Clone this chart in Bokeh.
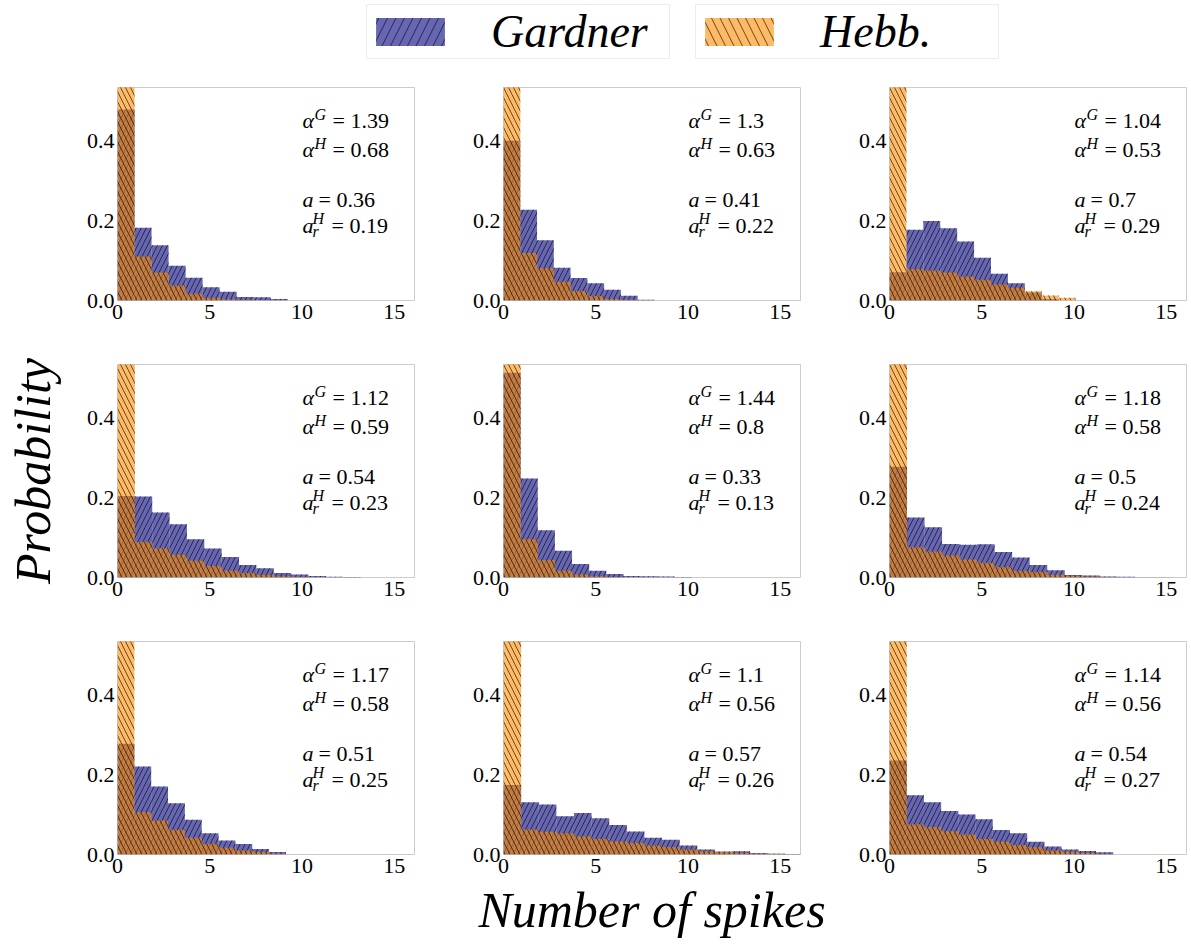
import math
import numpy as np
from bokeh.plotting import figure
from bokeh.models import (Range1d, FixedTicker, PrintfTickFormatter, Label,
                          Legend, LegendItem, ColumnDataSource)
from bokeh.layouts import row, column
from bokeh.embed import file_html
from bokeh.resources import INLINE

# ---------------- data ----------------
x_ticks = [0, 5, 10, 15]
y_ticks = [0.0, 0.2, 0.4]
series_names = ["Gardner", "Hebb."]
x_label = "Number of spikes"
y_label = "Probability"

# bin widths (spike-count histogram bins)
bin_width = [0.923, 0.909, 0.917, 0.941, 0.929, 0.95, 0.913, 0.955, 0.933]

gardner_1 = [0.478, 0.182, 0.138, 0.087, 0.057, 0.033, 0.022, 0.009, 0.008, 0.004]
hebb_1 = [0.84, 0.11, 0.07, 0.0375, 0.017, 0.007, 0.003, 0.002]

gardner_2 = [0.40, 0.227, 0.151, 0.082, 0.056, 0.043, 0.027, 0.012, 0.002]
hebb_2 = [0.81, 0.119, 0.081, 0.047, 0.024, 0.011, 0.004, 0.002]

gardner_3 = [0.071, 0.177, 0.199, 0.181, 0.1475, 0.107, 0.067, 0.043, 0.02, 0.004]
hebb_3 = [0.64, 0.079, 0.075, 0.07, 0.06, 0.052, 0.04, 0.032, 0.023, 0.0125, 0.007]

gardner_4 = [0.204, 0.2025, 0.1625, 0.133, 0.096, 0.0725, 0.051, 0.031, 0.023,
             0.011, 0.0075, 0.004, 0.0017, 0.001]
hebb_4 = [0.73, 0.089, 0.073, 0.057, 0.042, 0.029, 0.017, 0.011, 0.007, 0.003, 0.002]

gardner_5 = [0.5125, 0.2475, 0.118, 0.067, 0.034, 0.017, 0.009, 0.004, 0.003, 0.0025, 0.0015]
hebb_5 = [0.91, 0.096, 0.043, 0.017, 0.0075, 0.003, 0.0015]

gardner_6 = [0.277, 0.150, 0.126, 0.084, 0.082, 0.083, 0.064, 0.05, 0.031, 0.018,
             0.006, 0.005, 0.0025, 0.0017, 0.0008, 0.0008]
hebb_6 = [0.70, 0.076, 0.065, 0.055, 0.045, 0.037, 0.026, 0.0165, 0.014, 0.0066,
          0.004, 0.0025, 0.001]

gardner_7 = [0.277, 0.22, 0.17, 0.128, 0.087, 0.053, 0.035, 0.026, 0.014, 0.006]
hebb_7 = [0.73, 0.106, 0.085, 0.062, 0.042, 0.027, 0.017, 0.01, 0.006, 0.0025]

gardner_8 = [0.174, 0.131, 0.125, 0.096, 0.104, 0.091, 0.074, 0.0575, 0.042, 0.037,
             0.0225, 0.0125, 0.0075, 0.0083, 0.004, 0.0017, 0.001]
hebb_8 = [0.655, 0.0625, 0.057, 0.053, 0.045, 0.039, 0.0325, 0.029, 0.0225, 0.018,
          0.0125, 0.008, 0.006, 0.004, 0.0025, 0.0017]

gardner_9 = [0.235, 0.148, 0.131, 0.109, 0.1, 0.088, 0.061, 0.053, 0.032, 0.02,
             0.0124, 0.009, 0.0058]
hebb_9 = [0.68, 0.076, 0.068, 0.058, 0.05, 0.039, 0.032, 0.024, 0.018, 0.01,
          0.0066, 0.004, 0.0017]

alpha_G = ["1.39", "1.3", "1.04", "1.12", "1.44", "1.18", "1.17", "1.1", "1.14"]
alpha_H = ["0.68", "0.63", "0.53", "0.59", "0.8", "0.58", "0.58", "0.56", "0.56"]
a_vals = ["0.36", "0.41", "0.7", "0.54", "0.33", "0.5", "0.51", "0.57", "0.54"]
a_r_H = ["0.19", "0.22", "0.29", "0.23", "0.13", "0.24", "0.25", "0.26", "0.27"]

gardner_all = [gardner_1, gardner_2, gardner_3, gardner_4, gardner_5,
               gardner_6, gardner_7, gardner_8, gardner_9]
hebb_all = [hebb_1, hebb_2, hebb_3, hebb_4, hebb_5, hebb_6, hebb_7, hebb_8, hebb_9]

# ---------------- style ----------------
FONT = "Liberation Serif, serif"
G_COLOR = "navy"
H_COLOR = "darkorange"
FILL_ALPHA = 0.6
HATCH_ALPHA = 0.6
GRAY = "#cccccc"

FRAME_W, FRAME_H = 297, 213
BORDER_L = [117, 50, 50]
BORDER_R = [39, 39, 4]
BORDER_T = 14
BORDER_B = [50, 50, 95]
X_MAX, Y_MAX = 16.1, 0.533
TOTAL_W = 1190
LEG_H = 73


def hist_source(values, w):
    vals = np.asarray(values, dtype=float)
    edges = np.arange(len(vals) + 1) * w
    return ColumnDataSource(dict(left=edges[:-1], right=edges[1:],
                                 top=vals, bottom=np.zeros_like(vals)))


def add_label(p, x, y, text, size="22px", style="normal"):
    p.add_layout(Label(x=x, y=y, x_units="screen", y_units="screen", text=text,
                       text_font=FONT, text_font_size=size, text_font_style=style,
                       text_color="black", text_baseline="alphabetic",
                       text_align="left"))


def make_panel(k):
    r, c = divmod(k, 3)
    p = figure(frame_width=FRAME_W, frame_height=FRAME_H,
               x_range=Range1d(0, X_MAX), y_range=Range1d(0, Y_MAX),
               toolbar_location=None, output_backend="svg",
               min_border_left=BORDER_L[c], min_border_right=BORDER_R[c],
               min_border_top=BORDER_T, min_border_bottom=BORDER_B[r],
               background_fill_color="white", border_fill_color="white",
               outline_line_color=GRAY, outline_line_width=1)
    p.grid.visible = False
    for ax in p.axis:
        ax.axis_line_color = None
        ax.major_tick_line_color = None
        ax.minor_tick_line_color = None
        ax.major_tick_out = 0
        ax.major_tick_in = 0
        ax.major_label_text_font = FONT
        ax.major_label_text_font_size = "22px"
        ax.major_label_text_color = "black"
        ax.axis_label_text_font = FONT
        ax.axis_label_text_font_size = "50px"
        ax.axis_label_text_font_style = "italic"
        ax.axis_label_text_color = "black"
    p.xaxis.ticker = FixedTicker(ticks=x_ticks)
    p.yaxis.ticker = FixedTicker(ticks=y_ticks)
    p.yaxis.formatter = PrintfTickFormatter(format="%.1f")
    p.xaxis.major_label_standoff = 4
    p.yaxis.major_label_standoff = 3
    if k == 3:
        p.yaxis.axis_label = y_label
        p.yaxis.axis_label_standoff = 23
    if k == 7:
        p.xaxis.axis_label = x_label
        p.xaxis.axis_label_standoff = 6

    w = bin_width[k]
    p.quad(left="left", right="right", top="top", bottom="bottom",
           source=hist_source(gardner_all[k], w),
           fill_color=G_COLOR, fill_alpha=FILL_ALPHA, line_color=None,
           hatch_pattern="/", hatch_color="black", hatch_alpha=HATCH_ALPHA,
           hatch_scale=10, hatch_weight=1)
    p.quad(left="left", right="right", top="top", bottom="bottom",
           source=hist_source(hebb_all[k], w),
           fill_color=H_COLOR, fill_alpha=FILL_ALPHA, line_color=None,
           hatch_pattern="\\", hatch_color="black", hatch_alpha=HATCH_ALPHA,
           hatch_scale=10, hatch_weight=1)

    x0 = 185
    y1 = FRAME_H - 33
    y2 = FRAME_H - 62
    y3 = FRAME_H - 112
    y4 = FRAME_H - 138
    add_label(p, x0, y1, "\u03b1", style="italic")
    add_label(p, x0 + 12, y1 + 6, "G", size="16px", style="italic")
    add_label(p, x0 + 30, y1, "= " + alpha_G[k])
    add_label(p, x0, y2, "\u03b1", style="italic")
    add_label(p, x0 + 12, y2 + 6, "H", size="16px", style="italic")
    add_label(p, x0 + 30, y2, "= " + alpha_H[k])
    add_label(p, x0, y3, "a", style="italic")
    add_label(p, x0 + 16, y3, "= " + a_vals[k])
    add_label(p, x0, y4, "a", style="italic")
    add_label(p, x0 + 10, y4 + 7, "H", size="16px", style="italic")
    add_label(p, x0 + 10, y4 - 6, "r", size="16px", style="italic")
    add_label(p, x0 + 29, y4, "= " + a_r_H[k])
    return p


panels = [make_panel(k) for k in range(9)]

# legend figure: the series are drawn outside its visible x range, only the legend shows
lf = figure(width=TOTAL_W, height=LEG_H, x_range=Range1d(-3, -2), y_range=Range1d(0, 1),
            toolbar_location=None, output_backend="svg", min_border=0,
            outline_line_color=None, x_axis_location=None, y_axis_location=None,
            background_fill_color="white", border_fill_color="white")
lf.grid.visible = False
rg = lf.quad(left="left", right="right", top="top", bottom="bottom",
             source=hist_source(gardner_1, bin_width[0]), fill_color=G_COLOR,
             fill_alpha=FILL_ALPHA, line_color=None, hatch_pattern="/",
             hatch_color="black", hatch_alpha=HATCH_ALPHA, hatch_scale=17,
             hatch_weight=1)
rh = lf.quad(left="left", right="right", top="top", bottom="bottom",
             source=hist_source(hebb_1, bin_width[0]), fill_color=H_COLOR,
             fill_alpha=FILL_ALPHA, line_color=None, hatch_pattern="\\",
             hatch_color="black", hatch_alpha=HATCH_ALPHA, hatch_scale=17,
             hatch_weight=1)
for name, rend, lx in [(series_names[0], rg, 366), (series_names[1], rh, 695)]:
    leg = Legend(items=[LegendItem(label=name, renderers=[rend])], location=(lx, 14),
                 glyph_width=86, glyph_height=35, label_standoff=38, padding=0,
                 margin=0, spacing=0, label_width=178,
                 label_text_font=FONT, label_text_font_style="italic",
                 label_text_font_size="46px", label_text_color="black",
                 label_text_line_height=0.8,
                 border_line_color="#d9d9d9", border_line_width=1,
                 background_fill_color="white", background_fill_alpha=1)
    lf.add_layout(leg)

grid = column(row(*panels[0:3]), row(*panels[3:6]), row(*panels[6:9]))
layout = column(lf, grid)

open("out.html", "w").write(file_html(layout, INLINE))
